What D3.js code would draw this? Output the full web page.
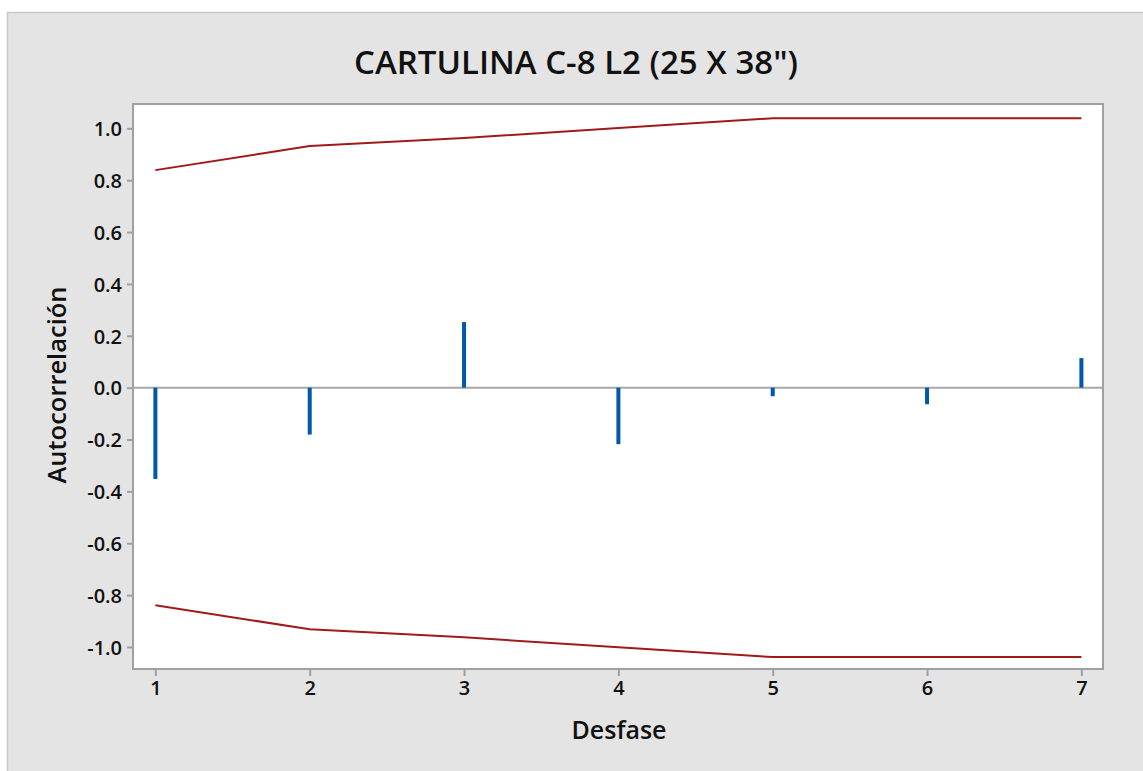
<!DOCTYPE html>
<html>
<head>
<meta charset="utf-8">
<script src="https://cdn.jsdelivr.net/npm/d3@7"></script>
<style>
  html, body { margin: 0; padding: 0; background: #fff; }
  svg { display: block; font-family: "Open Sans", sans-serif; }
</style>
</head>
<body>
<div id="chart"></div>
<script>
// datos
const lags = [1, 2, 3, 4, 5, 6, 7];
const acf = [-0.352, -0.181, 0.253, -0.218, -0.033, -0.064, 0.114];
const upperLimit = [0.839, 0.932, 0.963, 1.001, 1.039, 1.039, 1.039];
const lowerLimit = [-0.839, -0.932, -0.963, -1.001, -1.039, -1.039, -1.039];
const yTicks = [-1.0, -0.8, -0.6, -0.4, -0.2, 0.0, 0.2, 0.4, 0.6, 0.8, 1.0];

const width = 1143, height = 771;
const plot = { left: 133, top: 104, right: 1103, bottom: 669 };

const svg = d3.select('#chart').append('svg')
  .attr('width', width)
  .attr('height', height);

// fondo gris del marco
svg.append('rect')
  .attr('x', 7.5).attr('y', 12.5)
  .attr('width', width + 10).attr('height', height + 10)
  .attr('fill', '#e4e4e4')
  .attr('stroke', '#c8c8c8')
  .attr('stroke-width', 1.5);

const x = d3.scaleLinear().domain([0.855, 7.14]).range([plot.left, plot.right]);
const y = d3.scaleLinear().domain([-1.085, 1.094]).range([plot.bottom, plot.top]);

// área del gráfico
svg.append('rect')
  .attr('x', plot.left).attr('y', plot.top)
  .attr('width', plot.right - plot.left).attr('height', plot.bottom - plot.top)
  .attr('fill', '#fff')
  .attr('stroke', '#a0a0a0')
  .attr('stroke-width', 2);

// ejes (guion normal en vez del signo menos)
const yAxis = svg.append('g')
  .attr('class', 'yAxis')
  .attr('transform', `translate(${plot.left},0)`)
  .call(d3.axisLeft(y).tickValues(yTicks).tickSize(6).tickPadding(5)
    .tickFormat(v => v.toFixed(1)));

const xAxis = svg.append('g')
  .attr('class', 'xAxis')
  .attr('transform', `translate(0,${plot.bottom})`)
  .call(d3.axisBottom(x).tickValues(lags).tickSize(7).tickPadding(5).tickFormat(d3.format('d')));

svg.selectAll('.domain').remove();
svg.selectAll('.tick line').attr('stroke', '#a0a0a0').attr('stroke-width', 2);
svg.selectAll('.tick text')
  .attr('fill', '#111')
  .style('font-size', '20px')
  .style('font-weight', 600)
  .style('font-family', '"Open Sans", sans-serif');
yAxis.selectAll('.tick text').attr('dy', '0.36em');

// línea del cero
svg.append('line')
  .attr('x1', plot.left).attr('x2', plot.right)
  .attr('y1', y(0)).attr('y2', y(0))
  .attr('stroke', '#a8a8a8')
  .attr('stroke-width', 2);

// límites de significancia
const limitLine = d3.line()
  .x((d, i) => x(lags[i]))
  .y(d => y(d));

[upperLimit, lowerLimit].forEach(vals => {
  svg.append('path')
    .datum(vals)
    .attr('d', limitLine)
    .attr('fill', 'none')
    .attr('stroke', '#a11a1a')
    .attr('stroke-width', 2);
});

// barras de autocorrelación
svg.selectAll('.bar')
  .data(acf)
  .enter()
  .append('line')
  .attr('class', 'bar')
  .attr('x1', (d, i) => x(lags[i]))
  .attr('x2', (d, i) => x(lags[i]))
  .attr('y1', y(0))
  .attr('y2', d => y(d))
  .attr('stroke', '#0157a8')
  .attr('stroke-width', 4);

// textos
svg.append('text')
  .attr('x', 576).attr('y', 74)
  .attr('text-anchor', 'middle')
  .style('font-size', '33px')
  .style('font-weight', 600)
  .attr('fill', '#111')
  .text('CARTULINA C-8 L2 (25 X 38")');

svg.append('text')
  .attr('x', 619).attr('y', 739)
  .attr('text-anchor', 'middle')
  .style('font-size', '25px')
  .style('font-weight', 600)
  .attr('fill', '#111')
  .text('Desfase');

svg.append('text')
  .attr('transform', 'translate(66,385) rotate(-90)')
  .attr('text-anchor', 'middle')
  .style('font-size', '25.5px')
  .style('font-weight', 600)
  .attr('fill', '#111')
  .text('Autocorrelación');
</script>
</body>
</html>
